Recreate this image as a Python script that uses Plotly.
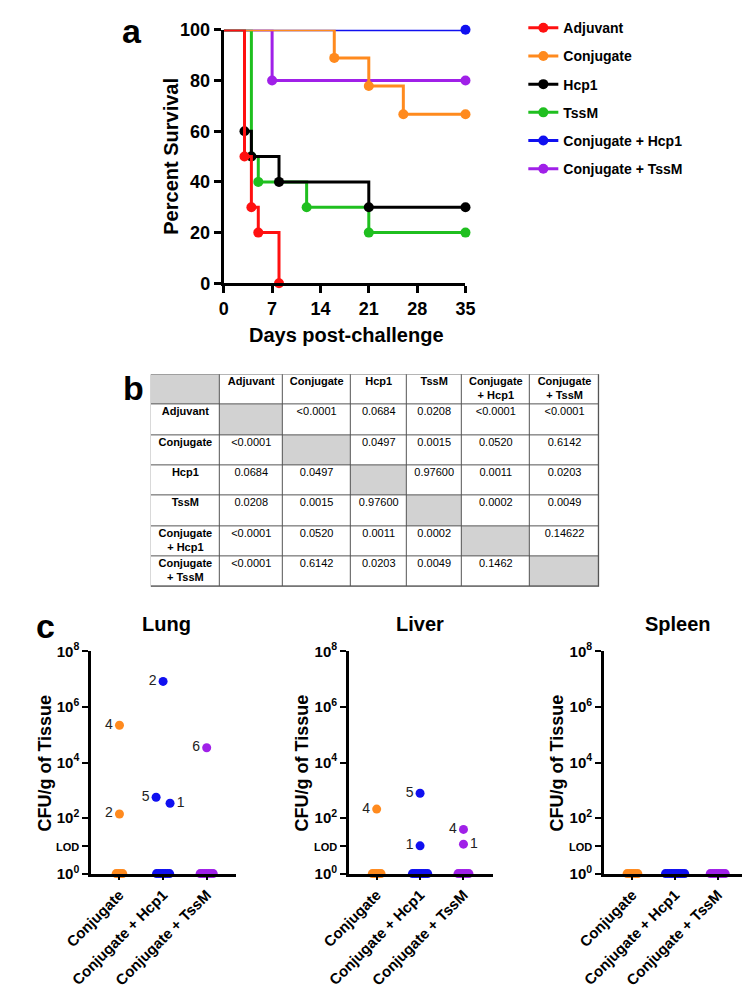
import plotly.graph_objects as go
import numpy as np

W, H = 750, 997
FONT = "Liberation Sans, Arial, sans-serif"

# ---------------- Panel a: survival data ----------------
groups = ["Adjuvant", "Conjugate", "Hcp1", "TssM", "Conjugate + Hcp1", "Conjugate + TssM"]
adj_days = [0, 3, 4, 5, 8]
adj_surv = [100, 50, 30, 20, 0]
conj_days = [0, 16, 21, 26, 35]
conj_surv = [100, 88.9, 77.8, 66.7, 66.7]
hcp1_days = [0, 3, 4, 8, 21, 35]
hcp1_surv = [100, 60, 50, 40, 30, 30]
tssm_days = [0, 4, 5, 12, 21, 35]
tssm_surv = [100, 50, 40, 30, 20, 20]
ch_days = [0, 35]
ch_surv = [100, 100]
ct_days = [0, 7, 35]
ct_surv = [100, 80, 80]
day_ticks = [0, 7, 14, 21, 28, 35]
surv_ticks = [0, 20, 40, 60, 80, 100]

# ---------------- Panel b: p-value table ----------------
table_groups = ["Adjuvant", "Conjugate", "Hcp1", "TssM", "Conjugate<br>+ Hcp1", "Conjugate<br>+ TssM"]
pvals = [
    ["", "<0.0001", "0.0684", "0.0208", "<0.0001", "<0.0001"],
    ["<0.0001", "", "0.0497", "0.0015", "0.0520", "0.6142"],
    ["0.0684", "0.0497", "", "0.97600", "0.0011", "0.0203"],
    ["0.0208", "0.0015", "0.97600", "", "0.0002", "0.0049"],
    ["<0.0001", "0.0520", "0.0011", "0.0002", "", "0.14622"],
    ["<0.0001", "0.6142", "0.0203", "0.0049", "0.1462", ""],
]

# ---------------- Panel c: bacterial burden ----------------
tissues = ["Lung", "Liver", "Spleen"]
c_groups = ["Conjugate", "Conjugate + Hcp1", "Conjugate + TssM"]
lung_conj = [2.2e5, 1.4e2, 0, 0, 0, 0]
lung_conj_lbl = ["4", "2", "", "", "", ""]
lung_hcp1 = [8.3e6, 5.6e2, 3.4e2, 0, 0, 0, 0, 0, 0, 0]
lung_hcp1_lbl = ["2", "5", "1", "", "", "", "", "", "", ""]
lung_tssm = [3.4e4, 0, 0, 0, 0, 0, 0, 0]
lung_tssm_lbl = ["6", "", "", "", "", "", "", ""]
liver_conj = [2.1e2, 0, 0, 0, 0, 0]
liver_conj_lbl = ["4", "", "", "", "", ""]
liver_hcp1 = [7.8e2, 10, 0, 0, 0, 0, 0, 0, 0, 0]
liver_hcp1_lbl = ["5", "1", "", "", "", "", "", "", "", ""]
liver_tssm = [39, 11.5, 0, 0, 0, 0, 0, 0]
liver_tssm_lbl = ["4", "1", "", "", "", "", "", ""]
spleen_conj = [0, 0, 0, 0, 0, 0]
spleen_hcp1 = [0, 0, 0, 0, 0, 0, 0, 0, 0, 0]
spleen_tssm = [0, 0, 0, 0, 0, 0, 0, 0]
cfu_tickvals = [1, 10, 100, 1e4, 1e6, 1e8]
cfu_ticktext = ["10<sup>0</sup>", "<span style='font-size:11px'>LOD</span>", "10<sup>2</sup>",
                "10<sup>4</sup>", "10<sup>6</sup>", "10<sup>8</sup>"]

# ---------------- styles ----------------
colors = {"Adjuvant": "#ff1010", "Conjugate": "#ff8a1e", "Hcp1": "#000000",
          "TssM": "#1fbf1f", "Conjugate + Hcp1": "#1010f0", "Conjugate + TssM": "#a020e8"}
right_labels = {("Lung", "Conjugate + Hcp1"): ["1"], ("Liver", "Conjugate + TssM"): ["1"]}
col_w = [73, 66, 72, 59, 58, 72, 73]
row_h = 31
GRAY = "#d2d2d2"
LINE = "#555555"


def px_x(p):
    return p / W


def px_y(p):
    return 1 - p / H


fig = go.Figure()

# ---- panel a traces ----
surv = {
    "Adjuvant": (adj_days, adj_surv),
    "Conjugate": (conj_days, conj_surv),
    "Hcp1": (hcp1_days, hcp1_surv),
    "TssM": (tssm_days, tssm_surv),
    "Conjugate + Hcp1": (ch_days, ch_surv),
    "Conjugate + TssM": (ct_days, ct_surv),
}
draw_order = ["Conjugate + Hcp1", "Conjugate + TssM", "TssM", "Hcp1", "Conjugate", "Adjuvant"]
for g in draw_order:
    d, s = surv[g]
    fig.add_trace(go.Scatter(
        x=d, y=s, mode="lines+markers", name=g,
        line=dict(color=colors[g], width=3, shape="hv"),
        marker=dict(color=colors[g], size=10, opacity=1),
        # no symbol at the day-0 start point
        selectedpoints=list(range(1, len(d))),
        selected=dict(marker=dict(opacity=1)),
        unselected=dict(marker=dict(opacity=0)),
        xaxis="x", yaxis="y", cliponaxis=False,
        legendrank=groups.index(g) + 1, legendgroup=g,
    ))

# ---- panel b: table drawn as a heatmap grid + text ----
n = len(table_groups)
x_edges = list(np.concatenate([[0], np.cumsum(col_w)]))
y_edges = [i * row_h for i in range(n + 2)]
z = [[0] * (n + 1) for _ in range(n + 1)]
z[0][0] = 1
for i in range(n):
    z[i + 1][i + 1] = 1
fig.add_trace(go.Heatmap(
    z=z, x=x_edges, y=y_edges, zmin=0, zmax=1,
    colorscale=[[0, "white"], [1, GRAY]], showscale=False, xgap=1, ygap=1,
    hoverinfo="skip", xaxis="x5", yaxis="y5",
))
tx, ty, tt = [], [], []
x_cent = [(x_edges[i] + x_edges[i + 1]) / 2 for i in range(n + 1)]
for j in range(n):
    tx.append(x_cent[j + 1]); ty.append(y_edges[0]); tt.append("<b>%s</b>" % table_groups[j])
for i in range(n):
    tx.append(x_cent[0]); ty.append(y_edges[i + 1]); tt.append("<b>%s</b>" % table_groups[i])
    for j in range(n):
        tx.append(x_cent[j + 1]); ty.append(y_edges[i + 1]); tt.append(pvals[i][j])
fig.add_trace(go.Scatter(
    x=tx, y=[v + 2.5 for v in ty], text=tt, mode="text", textposition="bottom center",
    textfont=dict(family=FONT, size=11, color="black", weight="normal"),
    xaxis="x5", yaxis="y5", hoverinfo="skip", showlegend=False, cliponaxis=False,
))

# ---- panel c traces ----
cdata = {
    "Lung": [(lung_conj, lung_conj_lbl), (lung_hcp1, lung_hcp1_lbl), (lung_tssm, lung_tssm_lbl)],
    "Liver": [(liver_conj, liver_conj_lbl), (liver_hcp1, liver_hcp1_lbl), (liver_tssm, liver_tssm_lbl)],
    "Spleen": [(spleen_conj, [""] * len(spleen_conj)), (spleen_hcp1, [""] * len(spleen_hcp1)),
               (spleen_tssm, [""] * len(spleen_tssm))],
}


def jitter(vals):
    """Spread overlapping points horizontally (undetected ones along the baseline)."""
    vals = np.asarray(vals, dtype=float)
    off = np.zeros(len(vals))
    zero = np.where(vals <= 0)[0]
    off[zero] = (np.arange(len(zero)) - (len(zero) - 1) / 2) * 0.05
    pos = [i for i in np.argsort(-vals) if vals[i] > 0]
    clusters, cur = [], []
    for i in pos:
        if cur and np.log10(vals[cur[-1]]) - np.log10(vals[i]) < 0.4:
            cur.append(i)
        else:
            if cur:
                clusters.append(cur)
            cur = [i]
    if cur:
        clusters.append(cur)
    for cl in clusters:
        if len(cl) > 1:
            for k, i in enumerate(cl):
                off[i] = (k - (len(cl) - 1) / 2) * 0.32
    return off


c_dom = {"Lung": (57, 210, -0.652, 2.674), "Liver": (329, 481, -0.64, 2.68),
         "Spleen": (598, 750, -0.67, 2.71)}
title_x = {"Lung": 137, "Liver": 404, "Spleen": 676}
for t_i, t in enumerate(tissues):
    ax = t_i + 2
    for g_i, (vals, lbls) in enumerate(cdata[t]):
        g = c_groups[g_i]
        off = jitter(vals)
        xs = [g_i + o for o in off]
        ys = [v if v > 0 else 1 for v in vals]  # undetected plotted on the axis floor
        rl = right_labels.get((t, g), [])
        pos = ["middle right" if l in rl else "middle left" for l in lbls]
        fig.add_trace(go.Scatter(
            x=xs, y=ys, mode="markers+text", text=lbls, textposition=pos,
            textfont=dict(family=FONT, size=14, color="#222222", weight="normal"),
            marker=dict(color=colors[g], size=9),
            xaxis="x%d" % ax, yaxis="y%d" % ax, cliponaxis=False, showlegend=False,
            hoverinfo="skip",
        ))

layout = dict(
    width=W, height=H, margin=dict(l=0, r=0, t=0, b=0),
    paper_bgcolor="white", plot_bgcolor="white",
    font=dict(family=FONT, color="black", weight="bold"),
    showlegend=True,
    legend=dict(x=px_x(513), y=px_y(-7), xanchor="left", yanchor="top",
                font=dict(family=FONT, size=14, weight="bold"), tracegroupgap=7,
                bgcolor="rgba(0,0,0,0)"),
    xaxis=dict(domain=[px_x(197), px_x(452)], range=[0, 35], tickvals=day_ticks,
               showline=True, linewidth=3, linecolor="black", ticks="outside", ticklen=7,
               tickwidth=3, tickcolor="black", tickfont=dict(size=18, weight="bold"),
               showgrid=False, zeroline=False, anchor="y", fixedrange=True),
    yaxis=dict(domain=[px_y(270), px_y(11)], range=[0, 100], tickvals=surv_ticks,
               showline=True, linewidth=3, linecolor="black", ticks="outside", ticklen=7,
               tickwidth=3, tickcolor="black", tickfont=dict(size=18, weight="bold"),
               showgrid=False, zeroline=False, anchor="x", fixedrange=True),
    xaxis5=dict(domain=[px_x(120), px_x(593)], range=[0, x_edges[-1]], visible=False,
                anchor="y5", fixedrange=True),
    yaxis5=dict(domain=[px_y(580), px_y(363)], range=[y_edges[-1], 0], visible=False,
                anchor="x5", fixedrange=True),
    shapes=[dict(type="rect", xref="x5", yref="y5", x0=0, x1=x_edges[-1], y0=0,
                 y1=y_edges[-1], fillcolor=LINE, line=dict(color=LINE, width=1), layer="below")],
)
for t_i, t in enumerate(tissues):
    ax = t_i + 2
    x0, x1, r0, r1 = c_dom[t]
    layout["xaxis%d" % ax] = dict(
        domain=[px_x(x0), px_x(x1)], range=[r0, r1], tickvals=[0, 1, 2], ticktext=c_groups,
        tickangle=-45, showline=True, linewidth=2.5, linecolor="black", ticks="outside",
        ticklen=4, tickwidth=2, tickcolor="black", tickfont=dict(size=15, weight="bold"),
        showgrid=False, zeroline=False, anchor="y%d" % ax)
    layout["yaxis%d" % ax] = dict(
        domain=[px_y(873), px_y(646)], type="log", range=[0, 8], tickvals=cfu_tickvals,
        ticktext=cfu_ticktext, showline=True, linewidth=2.5, linecolor="black",
        ticks="outside", ticklen=6, tickwidth=2, tickcolor="black",
        tickfont=dict(size=15, weight="bold"), showgrid=False, zeroline=False,
        anchor="x%d" % ax)
fig.update_layout(**layout)

ann = [
    dict(text="a", x=px_x(100), y=px_y(12), font=dict(size=34)),
    dict(text="b", x=px_x(102), y=px_y(377), font=dict(size=34)),
    dict(text="c", x=px_x(9), y=px_y(620), font=dict(size=34)),
    dict(text="Percent Survival", x=px_x(141), y=px_y(140), textangle=-90, font=dict(size=20)),
    dict(text="Days post-challenge", x=px_x(326), y=px_y(323), font=dict(size=20)),
]
for t_i, t in enumerate(tissues):
    x0 = c_dom[t][0]
    ann.append(dict(text=t, x=px_x(title_x[t]), y=px_y(618), font=dict(size=20)))
    ann.append(dict(text="CFU/g of Tissue", x=px_x(x0 - 49), y=px_y(760), textangle=-90,
                    font=dict(size=18)))
for a in ann:
    a.update(xref="paper", yref="paper", showarrow=False, xanchor="center", yanchor="middle")
    a["font"].update(family=FONT, color="black", weight="bold")
fig.update_layout(annotations=ann)

fig.write_html("out.html")
